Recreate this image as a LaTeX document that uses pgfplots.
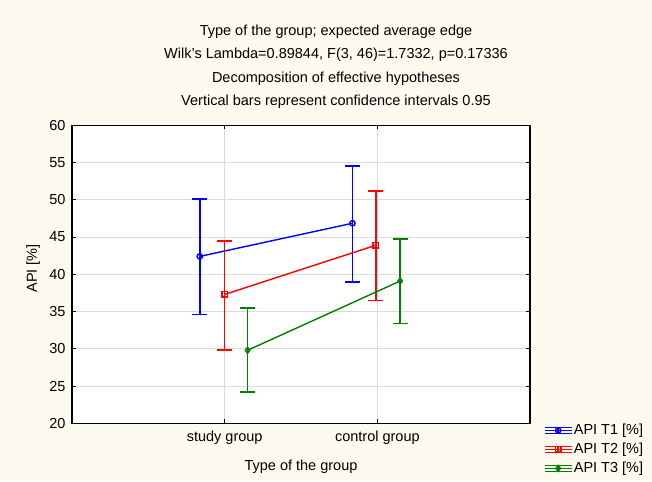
\documentclass[border=0pt]{standalone}
\usepackage{fontspec}
\setmainfont{Liberation Sans}
\usepackage{pgfplots}
\pgfplotsset{compat=1.18}
\definecolor{bg}{RGB}{253,250,240}
\definecolor{gridc}{RGB}{218,218,218}
\definecolor{dgreen}{RGB}{0,128,0}
\newcommand{\tf}{\fontsize{14.5}{17}\selectfont}
\pgfplotsset{
  ebar legend/.style={legend image code/.code={
    \draw[##1,mark=none] (0pt,3pt) -- (27pt,3pt);
    \draw[##1,mark=none] (0pt,-3pt) -- (27pt,-3pt);
    \draw[##1,mark=none] (0pt,0pt) -- (27pt,0pt);
    \draw[##1,mark=none] (13.5pt,-3pt) -- (13.5pt,3pt);
    \draw[##1,only marks] plot coordinates {(13.5pt,0pt)};
  }},
}
\begin{document}
\begin{tikzpicture}[font=\tf]
\fill[bg] (-72pt,-57.7pt) rectangle (580pt,423.3pt);
\useasboundingbox (-72pt,-57.7pt) rectangle (580pt,423.3pt);
\begin{axis}[
  at={(0pt,0pt)}, anchor=south west,
  scale only axis, width=458pt, height=298pt,
  xmin=0, xmax=3, ymin=20, ymax=60,
  ytick={20,25,...,60}, xtick={1,2},
  xticklabels={study group, control group},
  /pgf/number format/assume math mode=true,
  ticklabel style={font=\tf},
  yticklabel style={xshift=-3pt},
  xticklabel style={yshift=-4pt},
  label style={font=\tf},
  grid=major, grid style={gridc, line width=1pt},
  axis line style={line width=1.3pt},
  tick style={black, line width=1pt},
  major tick length=4pt,
  axis background/.style={fill=white},
  xlabel={Type of the group}, ylabel={API [\%]},
  xlabel style={at={(axis description cs:0.5,0)}, anchor=base, yshift=-46.7pt},
  ylabel style={at={(axis description cs:-0.085,0.52)}, anchor=center, rotate=0},
  legend style={at={(axis description cs:1.03,0.002)}, anchor=north west,
    draw=none, fill=none, inner sep=0pt, row sep=4pt,
    font=\tf, nodes={inner sep=1.5pt}},
  legend cell align=left,
  ebar legend,
]
\addplot[blue, line width=1.4pt, mark=o, mark size=2.7pt,
  error bars/.cd, y dir=both, y explicit,
  error bar style={line width=1.6pt},
  error mark options={blue, line width=1.6pt, mark size=7.5pt, rotate=90}]
  coordinates {(0.837,42.4) += (0,7.7) -= (0,7.8)
               (1.837,46.85) += (0,7.65) -= (0,7.9)};
\addlegendentry{API T1 [\%]}
\addplot[red, line width=1.4pt, mark=square, mark size=2.7pt,
  error bars/.cd, y dir=both, y explicit,
  error bar style={line width=1.6pt},
  error mark options={red, line width=1.6pt, mark size=7.5pt, rotate=90}]
  coordinates {(1.0,37.3) += (0,7.2) -= (0,7.5)
               (1.99,43.9) += (0,7.3) -= (0,7.4)};
\addlegendentry{API T2 [\%]}
\addplot[dgreen, line width=1.4pt, mark=diamond, mark size=3pt,
  error bars/.cd, y dir=both, y explicit,
  error bar style={line width=1.6pt},
  error mark options={dgreen, line width=1.6pt, mark size=7.5pt, rotate=90}]
  coordinates {(1.15,29.8) += (0,5.7) -= (0,5.6)
               (2.15,39.1) += (0,5.6) -= (0,5.7)};
\addlegendentry{API T3 [\%]}
\end{axis}
\node[anchor=base] at (264pt,387.3pt) {Type of the group; expected average edge};
\node[anchor=base] at (264pt,364.5pt) {Wilk's Lambda=0.89844, F(3, 46)=1.7332, p=0.17336};
\node[anchor=base] at (264pt,340.6pt) {Decomposition of effective hypotheses};
\node[anchor=base] at (264pt,317.6pt) {Vertical bars represent confidence intervals 0.95};
\end{tikzpicture}
\end{document}
